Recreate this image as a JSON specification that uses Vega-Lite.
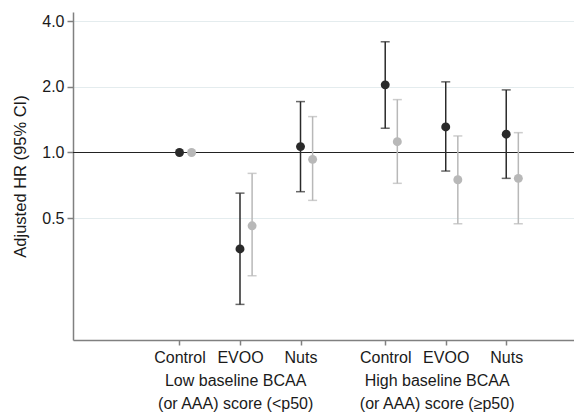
{
  "$schema": "https://vega.github.io/schema/vega-lite/v6.json",
  "autosize": "none",
  "width": 501,
  "height": 328,
  "padding": {"left": 73, "top": 12, "right": 0, "bottom": 72},
  "background": "white",
  "config": {
    "view": {"stroke": null},
    "font": "Liberation Sans",
    "axis": {
      "domainColor": "#808080",
      "domainWidth": 1.5,
      "tickColor": "#808080",
      "tickWidth": 1.5,
      "labelColor": "#1a1a1a",
      "labelFontSize": 16,
      "labelFont": "Liberation Sans",
      "titleFont": "Liberation Sans",
      "titleFontWeight": "normal",
      "titleColor": "#1a1a1a"
    }
  },
  "data": {
    "values": [
      {"baseline": "Low", "arm": "Control", "series": "BCAA", "x": 1.0, "hr": 1.0, "lo": null, "hi": null},
      {"baseline": "Low", "arm": "Control", "series": "AAA", "x": 1.2, "hr": 1.0, "lo": null, "hi": null},
      {"baseline": "Low", "arm": "EVOO", "series": "BCAA", "x": 2.0, "hr": 0.361, "lo": 0.201, "hi": 0.651},
      {"baseline": "Low", "arm": "EVOO", "series": "AAA", "x": 2.2, "hr": 0.461, "lo": 0.272, "hi": 0.802},
      {"baseline": "Low", "arm": "Nuts", "series": "BCAA", "x": 3.0, "hr": 1.064, "lo": 0.661, "hi": 1.712},
      {"baseline": "Low", "arm": "Nuts", "series": "AAA", "x": 3.2, "hr": 0.93, "lo": 0.603, "hi": 1.461},
      {"baseline": "High", "arm": "Control", "series": "BCAA", "x": 4.4, "hr": 2.043, "lo": 1.292, "hi": 3.22},
      {"baseline": "High", "arm": "Control", "series": "AAA", "x": 4.6, "hr": 1.121, "lo": 0.722, "hi": 1.748},
      {"baseline": "High", "arm": "EVOO", "series": "BCAA", "x": 5.4, "hr": 1.31, "lo": 0.822, "hi": 2.109},
      {"baseline": "High", "arm": "EVOO", "series": "AAA", "x": 5.6, "hr": 0.75, "lo": 0.471, "hi": 1.191},
      {"baseline": "High", "arm": "Nuts", "series": "BCAA", "x": 6.4, "hr": 1.213, "lo": 0.761, "hi": 1.937},
      {"baseline": "High", "arm": "Nuts", "series": "AAA", "x": 6.6, "hr": 0.761, "lo": 0.471, "hi": 1.233}
    ]
  },
  "encoding": {
    "x": {
      "field": "x",
      "type": "quantitative",
      "scale": {"domain": [-0.76, 7.52], "nice": false, "zero": false},
      "axis": {
        "title": null,
        "grid": false,
        "values": [1, 1.92, 2, 3, 4.4, 5.25, 5.4, 6.4],
        "tickSize": 5,
        "labelPadding": 4,
        "labelLineHeight": 23,
        "labelOverlap": false,
        "labelBound": false,
        "labelFlush": false,
        "tickOpacity": {"condition": {"test": "datum.value == 1.92 || datum.value == 5.25", "value": 0}, "value": 1},
        "labelExpr": "datum.value < 1.5 ? 'Control' : datum.value < 1.95 ? ['', 'Low baseline BCAA', '(or AAA) score (<p50)'] : datum.value < 2.5 ? 'EVOO' : datum.value < 3.5 ? 'Nuts' : datum.value < 5 ? 'Control' : datum.value < 5.3 ? ['', 'High baseline BCAA', '(or AAA) score (≥p50)'] : datum.value < 5.9 ? 'EVOO' : 'Nuts'"
      }
    },
    "y": {
      "field": "hr",
      "type": "quantitative",
      "scale": {"type": "log", "domain": [0.138, 4.41], "nice": false},
      "axis": {
        "title": "Adjusted HR (95% CI)",
        "titleFontSize": 16.5,
        "titlePadding": 13,
        "values": [0.5, 1, 2, 4],
        "format": ".1f",
        "tickSize": 6,
        "labelPadding": 3,
        "grid": true,
        "gridColor": "#e4ecee",
        "gridWidth": 1
      }
    },
    "color": {
      "field": "series",
      "type": "nominal",
      "scale": {"domain": ["BCAA", "AAA"], "range": ["#000000", "#a0a0a0"]},
      "legend": null
    }
  },
  "layer": [
    {
      "mark": {"type": "rule", "color": "#222222", "strokeWidth": 1.2},
      "encoding": {"y": {"datum": 1}, "x": null, "color": null}
    },
    {
      "transform": [{"filter": "isValid(datum.lo)"}],
      "mark": {"type": "rule", "strokeWidth": 1.5},
      "encoding": {
        "y": {"field": "lo", "type": "quantitative"},
        "y2": {"field": "hi"},
        "color": {
          "field": "series",
          "type": "nominal",
          "scale": {"domain": ["BCAA", "AAA"], "range": ["#000000", "#a0a0a0"]},
          "legend": null
        },
        "stroke": {
          "field": "series",
          "type": "nominal",
          "scale": {"domain": ["BCAA", "AAA"], "range": ["#2a2a2a", "#b8b8b8"]},
          "legend": null
        }
      }
    },
    {
      "transform": [{"filter": "isValid(datum.lo)"}],
      "mark": {"type": "tick", "orient": "horizontal", "size": 9, "thickness": 1.5},
      "encoding": {
        "y": {"field": "lo", "type": "quantitative"},
        "color": {
          "field": "series",
          "type": "nominal",
          "scale": {"domain": ["BCAA", "AAA"], "range": ["#2a2a2a", "#b8b8b8"]},
          "legend": null
        }
      }
    },
    {
      "transform": [{"filter": "isValid(datum.hi)"}],
      "mark": {"type": "tick", "orient": "horizontal", "size": 9, "thickness": 1.5},
      "encoding": {
        "y": {"field": "hi", "type": "quantitative"},
        "color": {
          "field": "series",
          "type": "nominal",
          "scale": {"domain": ["BCAA", "AAA"], "range": ["#2a2a2a", "#b8b8b8"]},
          "legend": null
        }
      }
    },
    {
      "mark": {"type": "point", "filled": true, "size": 80, "opacity": 1},
      "encoding": {}
    }
  ]
}
